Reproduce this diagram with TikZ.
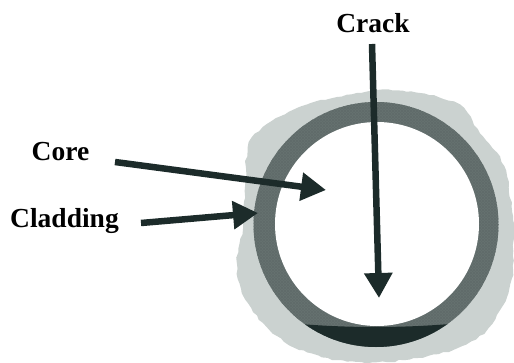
\documentclass[tikz,border=0pt]{standalone}
\usepackage{fontspec}
\setmainfont{Liberation Serif}
\usepackage{tikz}
\usetikzlibrary{arrows.meta,patterns,decorations.pathmorphing}
\definecolor{coatgray}{HTML}{CBD2D0}
\definecolor{cladgray}{HTML}{667270}
\definecolor{inkdark}{HTML}{1C2B2A}
\tikzset{
  fiberlabel/.style={font=\fontsize{27.5}{30}\selectfont\bfseries, text=black, inner sep=0pt},
  pointer/.style={line width=6.5pt, draw=inkdark, -{Triangle[length=25pt,width=27pt]}},
  roughedge/.style={decorate, decoration={random steps, segment length=5pt, amplitude=1pt}},
}
\begin{document}
\begin{tikzpicture}[x=1pt, y=-1pt]
  \useasboundingbox (0,0) rectangle (514,363);
  \fill[coatgray, roughedge] plot[smooth cycle, tension=0.5] coordinates {(337,97) (377,90) (420,93) (460,105) (480,133) (497,153) (507,177) (513,220) (513,270) (507,297) (487,330) (453,350) (387,362) (337,360) (293,347) (263,323) (242,293) (237,263) (243,227) (245,187) (248,147) (263,127) (297,108)};
  \fill[cladgray] (376,224.5) circle[radius=122.5pt];
  \fill[pattern=crosshatch, pattern color=inkdark!70] (376,224.5) circle[radius=122.5pt];
  \fill[white] (377,224) circle[radius=102pt];
  \begin{scope}
    \clip (376,224.5) circle[radius=122.5pt];
    \fill[inkdark] (300,324) .. controls (350,328) and (400,328) .. (450,324) -- (450,350) -- (300,350) -- cycle;
  \end{scope}
  \node[fiberlabel] (crack) at (373,23) {Crack};
  \node[fiberlabel] (core) at (60.5,152) {Core};
  \node[fiberlabel] (cladding) at (64.5,221) {Cladding};
  \coordinate (crackstart) at (372,44);
  \coordinate (cracktip) at (379,298);
  \coordinate (corestart) at (115,162);
  \coordinate (coretip) at (326,190);
  \coordinate (cladstart) at (141,223);
  \coordinate (cladtip) at (258,213);
  \draw[pointer] (crackstart) -- (cracktip);
  \draw[pointer] (corestart) -- (coretip);
  \draw[pointer] (cladstart) -- (cladtip);
\end{tikzpicture}
\end{document}
